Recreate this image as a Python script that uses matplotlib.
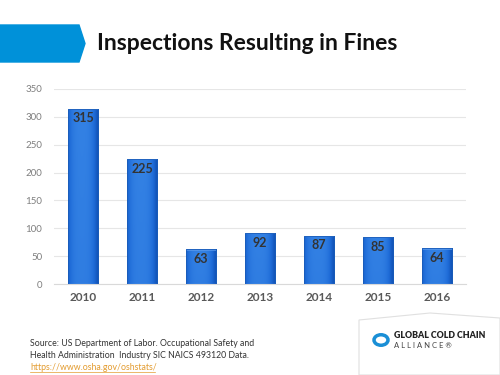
import numpy as np
import matplotlib
matplotlib.use('Agg')
import matplotlib.pyplot as plt
from matplotlib.patches import Polygon, Circle

# datos
years = ['2010', '2011', '2012', '2013', '2014', '2015', '2016']
fines = [315, 225, 63, 92, 87, 85, 64]
y_ticks = [0, 50, 100, 150, 200, 250, 300, 350]

plt.rcParams['font.family'] = ['Lato', 'DejaVu Sans']

fig = plt.figure(figsize=(5, 3.75), dpi=100)

# flecha azul + titulo
fig.patches.append(Polygon([[0, 1 - 25/375], [79/500, 1 - 25/375], [85/500, 1 - 43.5/375],
                            [79/500, 1 - 62/375], [0, 1 - 62/375]],
                           closed=True, transform=fig.transFigure, color='#0091d9', zorder=1))
fig.text(97/500, 1 - 44/375, 'Inspections Resulting in Fines', fontsize=16.5, fontweight='bold',
         color='#111111', va='center', ha='left')

ax = fig.add_axes([53.5/500, 1 - 284/375, 413/500, 195/375])

x = np.arange(len(years))
bars = ax.bar(x, fines, width=0.51, color='none', edgecolor='#1a5cb8', linewidth=0.6, zorder=3)

# degradado horizontal suave (bordes algo mas oscuros)
u = np.linspace(-1, 1, 64)
horiz = 1 - np.abs(u + 0.1) ** 3
vert = np.linspace(0.9, 1.0, 256).reshape(-1, 1)
grad = np.clip(horiz.reshape(1, -1) * vert, 0, 1)
cmap = matplotlib.colors.LinearSegmentedColormap.from_list('b', ['#1356bb', '#1f6cd8', '#3381e4'])
for b in bars:
    x0, w, h = b.get_x(), b.get_width(), b.get_height()
    im = ax.imshow(grad, cmap=cmap, aspect='auto', origin='lower', vmin=0, vmax=1,
                   extent=[x0, x0 + w, 0, h], zorder=2)
    im.set_clip_path(b)
    # bisel claro arriba
    ax.fill_between([x0, x0 + w], h - 3, h, color='#5c9cee', alpha=0.7, zorder=2.5, linewidth=0)

for xi, v in zip(x, fines):
    ax.text(xi, v - 7, str(v), ha='center', va='top', fontsize=9, fontweight='bold',
            color='#333333', zorder=4)

ax.set_xlim(-0.5, len(years) - 0.5)
ax.set_ylim(0, 350)
ax.set_yticks(y_ticks)
ax.set_xticks(x)
ax.set_xticklabels(years, fontsize=8.5, fontweight='bold', color='#595959')
ax.tick_params(axis='y', labelsize=7, colors='#7f7f7f', length=0, pad=8)
ax.tick_params(axis='x', length=0, pad=6)
ax.grid(axis='y', color='#e6e6e6', linewidth=0.8, zorder=0)
ax.set_axisbelow(True)
for s in ['top', 'right', 'left']:
    ax.spines[s].set_visible(False)
ax.spines['bottom'].set_color('#d9d9d9')
ax.set_facecolor('none')

# fuente
fig.text(30/500, 1 - 343/375, 'Source: US Department of Labor. Occupational Safety and',
         fontsize=6.3, color='#333333', va='center')
fig.text(30/500, 1 - 355/375, 'Health Administration  Industry SIC NAICS 493120 Data.',
         fontsize=6.3, color='#333333', va='center')
fig.text(30/500, 1 - 367/375, 'https://www.osha.gov/oshstats/',
         fontsize=6.3, color='#e39b2e', va='center')
fig.lines.append(plt.Line2D([30/500, 155/500], [1 - 372/375, 1 - 372/375],
                            transform=fig.transFigure, color='#e39b2e', linewidth=0.5))

# logo
fig.patches.append(Polygon([[359/500, 0], [359/500, 1 - 320/375], [430/500, 1 - 313/375],
                            [500/500, 1 - 318/375], [500/500, 0]],
                           closed=True, transform=fig.transFigure, facecolor='white',
                           edgecolor='#e0e0e0', linewidth=0.8, zorder=1))
fig.patches.append(Circle((381/500, 1 - 340/375), 7/500, transform=fig.transFigure,
                          facecolor='none', edgecolor='#1a8fd6', linewidth=2.5, zorder=2))
fig.text(394/500, 1 - 336/375, 'GLOBAL COLD CHAIN', fontsize=6.3, fontweight='heavy',
         color='#222222', va='center')
fig.text(394/500, 1 - 346/375, 'A L L I A N C E ®', fontsize=5.5, color='#444444', va='center')

fig.savefig('out.png', dpi=100)
